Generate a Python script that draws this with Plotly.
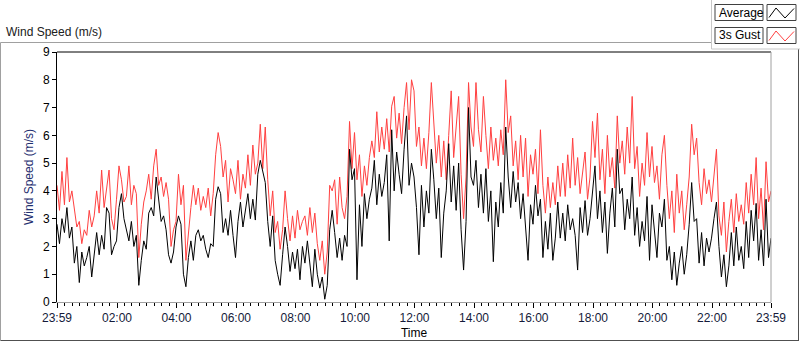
import pandas as pd
import plotly.graph_objects as go

# ---- data (5-minute samples, 23:59 -> 23:59) ----
gust = [
    4.2, 3.3, 4.7, 3.5, 5.2, 3.6, 4.0, 3.4, 2.7, 2.9, 2.1, 2.6,
    2.4, 3.3, 2.7, 3.1, 4.0, 3.2, 4.75, 3.4, 4.1, 4.75, 3.0, 2.6,
    3.7, 4.9, 4.4, 3.6, 3.8, 4.9, 3.5, 4.2, 3.9, 1.6, 2.8, 3.6,
    4.0, 4.6, 3.7, 4.9, 5.5, 4.2, 4.5, 3.8, 4.3, 3.7, 2.0, 2.6,
    2.9, 4.6, 3.5, 4.2, 1.5, 2.6, 3.4, 4.2, 3.5, 4.1, 3.3, 3.8,
    3.4, 4.1, 3.1, 3.9, 5.3, 6.1, 5.6, 4.5, 5.1, 3.6, 4.8, 4.4,
    3.9, 5.1, 3.7, 4.6, 4.1, 5.3, 4.2, 5.65, 4.6, 5.0, 6.4, 4.8,
    6.3, 4.4, 3.1, 4.0, 2.5, 2.9, 1.9, 2.6, 4.0, 3.0, 2.2, 3.1,
    2.3, 3.3, 2.6, 2.9, 3.1, 2.4, 3.4, 2.5, 3.2, 2.1, 1.5, 2.2,
    1.0, 1.8, 4.2, 4.0, 4.4, 2.8, 4.5, 3.4, 3.0, 3.8, 6.5, 4.8,
    6.1, 4.4, 5.3, 3.8, 4.9, 4.2, 5.2, 5.8, 5.2, 6.85, 5.4, 6.3,
    5.5, 6.6, 5.4, 7.05, 7.4, 5.9, 6.8, 5.7, 7.0, 7.9, 6.2, 8.0,
    7.6, 5.6, 6.3, 4.9, 5.9, 4.8, 6.1, 7.9, 6.4, 5.0, 6.0, 4.5,
    5.8, 4.4, 6.0, 7.6, 5.2, 6.3, 7.4, 4.6, 3.0, 4.5, 7.9, 6.3,
    5.6, 7.9, 6.2, 5.4, 7.4, 6.0, 4.8, 6.3, 5.1, 5.9, 4.9, 6.2,
    5.3, 8.0, 6.1, 6.7, 4.9, 5.8, 4.4, 6.0, 4.5, 5.9, 3.8, 5.3,
    4.6, 5.5, 3.9, 6.2, 4.2, 3.2, 4.5, 3.4, 4.3, 3.5, 4.9, 3.8,
    5.0, 3.8, 5.3, 4.1, 5.9, 4.2, 5.2, 3.9, 4.7, 5.4, 3.7, 4.5,
    6.5, 5.2, 6.8, 4.4, 5.5, 3.9, 6.0, 4.5, 5.2, 4.1, 6.7, 5.0,
    5.8, 4.6, 6.3, 5.0, 7.4, 4.8, 5.6, 3.8, 5.0, 4.2, 6.1, 4.5,
    5.6, 4.3, 4.9, 3.7, 5.3, 6.0, 4.2, 3.0, 4.0, 2.5, 4.6, 3.2,
    4.0, 2.6, 3.5, 4.5, 6.4, 5.3, 5.9, 4.3, 3.5, 4.8, 3.9, 4.4,
    3.6, 4.7, 5.5, 3.1, 2.4, 3.6, 1.8, 2.9, 3.7, 2.5, 3.9, 2.9,
    3.5, 2.8, 4.3, 3.2, 4.6, 3.5, 5.2, 3.0, 4.1, 2.6, 5.05, 3.6,
    4.0,
]
average = [
    2.8, 2.1, 3.0, 2.5, 3.4, 2.3, 2.7, 1.4, 2.0, 0.7, 1.8, 1.3,
    1.6, 2.0, 0.9, 1.8, 2.5, 1.7, 2.4, 1.9, 3.4, 3.2, 1.7, 2.0,
    2.2, 3.4, 3.9, 3.0, 2.6, 2.2, 2.9, 2.0, 2.4, 0.6, 1.5, 2.2,
    1.9, 3.2, 3.4, 3.1, 4.5, 3.6, 2.9, 3.1, 2.6, 1.7, 1.4, 1.8,
    2.7, 3.1, 2.8, 1.0, 0.55, 1.6, 2.2, 1.5, 2.4, 2.6, 2.2, 2.4,
    1.9, 1.6, 2.1, 2.0, 3.7, 4.15, 3.9, 2.5, 3.0, 2.4, 3.3, 2.4,
    1.6, 2.9, 3.6, 2.7, 3.3, 3.9, 3.0, 3.7, 2.95, 4.6, 5.1, 4.7,
    4.3, 2.9, 2.0, 3.1, 1.5, 1.0, 0.6, 1.7, 2.7, 2.0, 1.1, 1.8,
    1.2, 1.9, 0.8, 2.0, 1.4, 2.2, 1.3, 0.55, 1.9, 1.0, 0.5, 0.9,
    0.1, 0.6, 2.6, 3.3, 2.5, 1.6, 2.3, 1.5, 2.4, 2.0, 5.5, 4.4,
    4.8, 0.8, 3.5, 2.0, 3.9, 3.0, 3.7, 4.1, 5.1, 3.5, 4.6, 3.8,
    4.3, 5.3, 2.2, 6.2, 4.0, 5.4, 4.6, 3.9, 5.5, 6.7, 4.2, 5.0,
    4.5, 3.4, 1.7, 4.2, 2.7, 4.0, 3.2, 5.5, 4.4, 3.0, 4.1, 1.6,
    3.2, 4.0, 5.7, 3.6, 4.9, 3.3, 5.0, 2.6, 1.15, 2.9, 7.0, 4.5,
    4.2, 5.1, 3.4, 4.6, 3.2, 4.8, 2.9, 4.0, 1.45, 3.6, 2.7, 4.3,
    3.2, 6.3, 4.5, 3.4, 4.7, 3.6, 4.3, 3.0, 3.9, 2.7, 1.5, 3.5,
    2.8, 4.2, 3.1, 3.7, 1.6, 2.9, 1.9, 3.2, 1.5, 2.3, 3.6, 2.3,
    3.2, 2.2, 3.5, 2.6, 3.0, 2.4, 1.15, 3.4, 2.5, 3.65, 2.4, 3.0,
    3.9, 4.9, 3.0, 4.0, 2.5, 3.6, 1.75, 3.2, 4.1, 2.7, 5.5, 3.9,
    4.1, 2.6, 3.7, 3.0, 4.5, 2.4, 3.4, 2.0, 2.9, 2.2, 3.8, 1.5,
    3.5, 2.6, 1.6, 3.2, 2.7, 3.7, 1.5, 2.0, 0.8, 1.8, 0.6, 1.4,
    2.0, 1.0, 1.7, 2.8, 4.3, 2.9, 3.0, 1.4, 2.5, 1.3, 2.3, 1.8,
    2.3, 3.0, 3.6, 2.0, 0.9, 1.7, 0.55, 1.3, 2.5, 1.3, 2.7, 1.5,
    2.0, 1.2, 2.9, 1.6, 3.3, 2.2, 3.55, 1.5, 2.6, 1.3, 3.7, 1.6,
    2.3,
]
start_time = "2024-01-01 23:59"
tick_times = ["2024-01-01 23:59", "2024-01-02 02:00", "2024-01-02 04:00",
              "2024-01-02 06:00", "2024-01-02 08:00", "2024-01-02 10:00",
              "2024-01-02 12:00", "2024-01-02 14:00", "2024-01-02 16:00",
              "2024-01-02 18:00", "2024-01-02 20:00", "2024-01-02 22:00",
              "2024-01-02 23:59"]
tick_labels = ["23:59", "02:00", "04:00", "06:00", "08:00", "10:00", "12:00",
               "14:00", "16:00", "18:00", "20:00", "22:00", "23:59"]

times = pd.date_range(start_time, periods=len(gust), freq="5min")

# ---- geometry helpers (pixel -> paper) ----
L, R, T, B = 57, 29, 52, 40
W, H = 800, 342
PW, PH = W - L - R, H - T - B


def px(x):
    return (x - L) / PW


def py(y):
    return (H - B - y) / PH


FONT = "Liberation Sans"

fig = go.Figure()
fig.add_trace(go.Scatter(x=times, y=gust, mode="lines", name="3s Gust",
                         line=dict(color="#ff4040", width=1)))
fig.add_trace(go.Scatter(x=times, y=average, mode="lines", name="Average",
                         line=dict(color="#000000", width=1)))

fig.update_layout(
    width=W, height=H, autosize=False,
    margin=dict(l=L, r=R, t=T, b=B, pad=0),
    paper_bgcolor="white", plot_bgcolor="white",
    showlegend=False,
    font=dict(family=FONT, size=12, color="#1a1a2e"),
)
fig.update_xaxes(
    automargin=False,
    range=[tick_times[0], tick_times[-1]],
    tickmode="array", tickvals=tick_times, ticktext=tick_labels,
    ticks="outside", ticklen=5, tickcolor="#000000", tickwidth=1,
    showline=True, linecolor="#a0a0a0", linewidth=1,
    showgrid=False, zeroline=False,
    tickfont=dict(family=FONT, size=12, color="#141a3a"),
    title=dict(text="Time", font=dict(family=FONT, size=12, color="#000000"), standoff=4),
    minor=dict(tickmode="linear", tick0="2024-01-02 02:00", dtick=15 * 60 * 1000,
               ticks="outside", ticklen=3, tickcolor="#000000", showgrid=False),
)
fig.update_yaxes(
    automargin=False,
    range=[0, 9], dtick=1, tick0=0,
    ticks="outside", ticklen=4, tickcolor="#000000",
    showline=True, linecolor="#000000", linewidth=1,
    showgrid=False, zeroline=False,
    tickfont=dict(family=FONT, size=12, color="#000000"),
    title=dict(text="Wind Speed (m/s)", font=dict(family=FONT, size=12, color="#1f2f6f"), standoff=6),
)

shapes = []
# plot top border (black) and right border (gray)
shapes.append(dict(type="line", xref="paper", yref="paper", x0=0, x1=1, y0=1, y1=1,
                   line=dict(color="#000000", width=1)))
shapes.append(dict(type="line", xref="paper", yref="paper", x0=1, x1=1, y0=0, y1=1,
                   line=dict(color="#a0a0a0", width=1)))
# outer frame
shapes.append(dict(type="line", xref="paper", yref="paper", x0=px(0.5), x1=px(712), y0=py(42.5), y1=py(42.5),
                   line=dict(color="#a0a0a0", width=1)))
shapes.append(dict(type="line", xref="paper", yref="paper", x0=px(0.5), x1=px(0.5), y0=py(42.5), y1=py(340.5),
                   line=dict(color="#a0a0a0", width=1)))
shapes.append(dict(type="line", xref="paper", yref="paper", x0=px(0.5), x1=px(799), y0=py(340.5), y1=py(340.5),
                   line=dict(color="#505050", width=1)))
shapes.append(dict(type="line", xref="paper", yref="paper", x0=px(798.5), x1=px(798.5), y0=py(49), y1=py(340.5),
                   line=dict(color="#505050", width=1)))
# legend panel
shapes.append(dict(type="line", xref="paper", yref="paper", x0=px(711.5), x1=px(711.5), y0=py(0), y1=py(49),
                   line=dict(color="#c8c8c8", width=1)))
shapes.append(dict(type="line", xref="paper", yref="paper", x0=px(711.5), x1=px(800), y0=py(49), y1=py(49),
                   line=dict(color="#c8c8c8", width=1)))

legend_rows = [("Average", "#000000", 4.5), ("3s Gust", "#ff4040", 27.5)]
for label, color, top in legend_rows:
    shapes.append(dict(type="rect", xref="paper", yref="paper",
                       x0=px(715), x1=px(763), y0=py(top), y1=py(top + 16),
                       line=dict(color="#404040", width=1), fillcolor="white"))
    shapes.append(dict(type="rect", xref="paper", yref="paper",
                       x0=px(767), x1=px(796), y0=py(top), y1=py(top + 16),
                       line=dict(color="#404040", width=1), fillcolor="white"))
    path = "M {} {} L {} {} L {} {} L {} {}".format(
        px(769), py(top + 13), px(776), py(top + 3.5), px(785), py(top + 13.5), px(794), py(top + 4))
    shapes.append(dict(type="path", xref="paper", yref="paper", path=path,
                       line=dict(color=color, width=1)))

annotations = [
    dict(text="Wind Speed (m/s)", xref="paper", yref="paper", x=px(4), y=py(32),
         xanchor="left", yanchor="middle", showarrow=False,
         font=dict(family=FONT, size=12, color="#202020")),
]
for label, color, top in legend_rows:
    annotations.append(dict(text=label, xref="paper", yref="paper", x=px(717), y=py(top + 8),
                            xanchor="left", yanchor="middle", showarrow=False,
                            font=dict(family=FONT, size=12, color="#000000")))

fig.update_layout(shapes=shapes, annotations=annotations)

fig.write_html(
    "out.html",
    config={"displayModeBar": False, "responsive": False},
    post_script="document.body.style.margin='0';document.body.style.padding='0';document.body.style.overflow='hidden';",
)
